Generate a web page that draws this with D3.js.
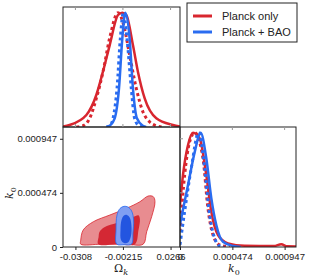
<!DOCTYPE html>
<html>
<head>
<meta charset="utf-8">
<script src="https://cdn.jsdelivr.net/npm/d3@7"></script>
<style>
  body { margin: 0; background: #fff; }
  text { font-family: "Liberation Sans", Arial, sans-serif; }
  .math { font-family: "DejaVu Serif", serif; }
</style>
</head>
<body>
<script>
// tick values shared by both parameters
var omegaTicks = [-0.0308, -0.00215, 0.0266];
var k0Ticks = [0, 0.000474, 0.000947];
var seriesNames = ["Planck only", "Planck + BAO"];

// 1D marginal of Omega_k, [value, normalised probability]
var omegaPlanck = [[-0.0383,0.004],[-0.0343,0.018],[-0.0242,0.105],[-0.0182,0.28],[-0.0142,0.484],[-0.0101,0.717],[-0.0051,0.98],[-0.0025,1.0],[-0.0001,0.98],[0.0039,0.717],[0.0069,0.484],[0.011,0.25],[0.018,0.076],[0.028,0.018],[0.0323,0.005]];
var omegaPlanckDot = [[-0.0302,0.0],[-0.0262,0.011],[-0.0222,0.076],[-0.0182,0.25],[-0.0142,0.48],[-0.0101,0.78],[-0.0051,1.0],[-0.0015,0.88],[0.0019,0.63],[0.0059,0.339],[0.0099,0.134],[0.0139,0.046],[0.018,0.011],[0.022,0.0]];
var omegaBAO = [[-0.0121,0.0],[-0.0101,0.011],[-0.0071,0.076],[-0.0045,0.339],[-0.0025,0.776],[-0.0007,1.0],[0.0019,0.776],[0.0039,0.339],[0.0063,0.076],[0.0099,0.011],[0.0119,0.0]];
var omegaBAODot = [[-0.0121,0.0],[-0.0101,0.011],[-0.0081,0.076],[-0.0057,0.339],[-0.0037,0.776],[-0.0019,1.0],[0.0003,0.776],[0.0029,0.339],[0.0049,0.076],[0.0075,0.011],[0.0095,0.0]];

// 1D marginal of k0
var k0Planck = [[0,0.37],[0.000027,0.63],[0.000072,0.89],[0.000118,1.0],[0.000178,0.95],[0.000238,0.63],[0.000283,0.31],[0.000344,0.105],[0.000434,0.032],[0.000585,0.011],[0.00085,0.008],[0.000917,0.024],[0.00097,0.006],[0.00105,0.005]];
var k0PlanckDot = [[0,0.134],[0.000042,0.63],[0.000087,0.92],[0.000133,1.0],[0.000208,0.776],[0.000253,0.339],[0.000299,0.105],[0.000359,0.018],[0.00045,0.0]];
var k0BAO = [[0,0.2],[0.000072,0.54],[0.000133,0.83],[0.000187,1.0],[0.000238,0.776],[0.000283,0.43],[0.000329,0.19],[0.000389,0.046],[0.000479,0.009],[0.00055,0.0]];
var k0BAODot = [[0,0.02],[0.000042,0.31],[0.000102,0.69],[0.000169,1.0],[0.000223,0.69],[0.000268,0.28],[0.000314,0.076],[0.000359,0.009],[0.0004,0.0]];

// 2D contours, [Omega_k, k0]
var planck95 = [[-0.0276,0.000025],[-0.0276,0.00006],[-0.0261,0.000149],[-0.02,0.000221],[-0.01,0.00028],[0.0001,0.000339],[0.0081,0.000396],[0.0131,0.000446],[0.0162,0.00044],[0.0172,0.000396],[0.0152,0.000265],[0.0122,0.000134],[0.0101,0.000025],[0.0,0.000025],[-0.015,0.000025]];
var planck68 = [[-0.017,0.000025],[-0.0168,0.00009],[-0.0163,0.000131],[-0.0136,0.000171],[-0.0051,0.000214],[0.0039,0.000263],[0.0072,0.000277],[0.0081,0.000245],[0.0072,0.000144],[0.0051,0.000025],[-0.006,0.000025]];
var bao95 = [[-0.0059,0.000026],[-0.0063,0.000149],[-0.0057,0.00028],[-0.0039,0.000337],[-0.0015,0.000356],[0.0009,0.00035],[0.0031,0.000315],[0.0043,0.000236],[0.0039,0.000123],[0.0031,0.000026],[-0.0014,0.00002]];
var bao68 = [[-0.0033,0.000061],[-0.0036,0.000149],[-0.003,0.000236],[-0.0015,0.000276],[0.0003,0.00028],[0.0021,0.000254],[0.003,0.000184],[0.0027,0.000096],[0.0009,0.000039],[-0.0015,0.000035]];

var red = "#d8262f", blue = "#2a6cf0";

var W = 310, H = 280;
var svg = d3.select("body").append("svg").attr("width", W).attr("height", H);

var L = 63, M = 180, R = 296, T = 7, MID = 127, B = 247;

var xOmega = d3.scaleLinear().domain([-0.0383, 0.0323]).range([L, M]);
var xK0 = d3.scaleLinear().domain([0, 0.00105]).range([M, R]);
var yK0 = d3.scaleLinear().domain([0, 0.00105]).range([B, MID]);
var yTop = d3.scaleLinear().domain([0, 1.05]).range([MID, T]);
var yBR = d3.scaleLinear().domain([0, 1.05]).range([B, MID]);

var defs = svg.append("defs");
function clip(id, x0, y0, x1, y1) {
  defs.append("clipPath").attr("id", id).append("rect")
    .attr("x", x0).attr("y", y0).attr("width", x1 - x0).attr("height", y1 - y0);
}
clip("cTL", L, T, M, MID);
clip("cBL", L, MID, M, B);
clip("cBR", M, MID, R, B);

// contours in bottom-left panel
var gBL = svg.append("g").attr("clip-path", "url(#cBL)");
var area = d3.line()
    .x(function (d) { return xOmega(d[0]); })
    .y(function (d) { return yK0(d[1]); })
    .curve(d3.curveCatmullRomClosed.alpha(0.5));
var contours = [
  {d: planck95, fill: "#e88c90", stroke: red},
  {d: planck68, fill: "#d42834", stroke: "none"},
  {d: bao95, fill: "#809ef2", stroke: blue},
  {d: bao68, fill: "#2355e0", stroke: "none"}
];
contours.forEach(function (c) {
  gBL.append("path").attr("d", area(c.d))
    .attr("fill", c.fill).attr("stroke", c.stroke).attr("stroke-width", 0.8);
});

// 1D curves
function curves(g, sx, sy, sets) {
  var line = d3.line()
      .x(function (d) { return sx(d[0]); })
      .y(function (d) { return sy(d[1]); })
      .curve(d3.curveMonotoneX);
  sets.forEach(function (s) {
    g.append("path").attr("d", line(s.d))
      .attr("fill", "none")
      .attr("stroke", s.c)
      .attr("stroke-width", s.dot ? 3 : 2.5)
      .attr("stroke-dasharray", s.dot ? "3,3" : null);
  });
}
var gTL = svg.append("g").attr("clip-path", "url(#cTL)");
curves(gTL, xOmega, yTop, [
  {d: omegaPlanck, c: red}, {d: omegaPlanckDot, c: red, dot: true},
  {d: omegaBAO, c: blue}, {d: omegaBAODot, c: blue, dot: true}
]);
var gBR = svg.append("g").attr("clip-path", "url(#cBR)");
curves(gBR, xK0, yBR, [
  {d: k0Planck, c: red}, {d: k0PlanckDot, c: red, dot: true},
  {d: k0BAO, c: blue}, {d: k0BAODot, c: blue, dot: true}
]);

// panel frames
[[L, T, M, MID], [L, MID, M, B], [M, MID, R, B]].forEach(function (p) {
  svg.append("rect").attr("x", p[0]).attr("y", p[1])
    .attr("width", p[2] - p[0]).attr("height", p[3] - p[1])
    .attr("fill", "none").attr("stroke", "#222").attr("stroke-width", 1);
});

// inner ticks
function innerTicks(vals, pos, fixed, dir, vertical) {
  vals.forEach(function (v) {
    var p = pos(v);
    if (vertical) {
      svg.append("line").attr("x1", fixed).attr("x2", fixed + dir * 3)
        .attr("y1", p).attr("y2", p).attr("stroke", "#999");
    } else {
      svg.append("line").attr("x1", p).attr("x2", p)
        .attr("y1", fixed).attr("y2", fixed + dir * 3).attr("stroke", "#999");
    }
  });
}
innerTicks(omegaTicks, xOmega, T, 1, false);
innerTicks(omegaTicks, xOmega, MID, -1, false);
innerTicks(k0Ticks.slice(1), xK0, MID, 1, false);
innerTicks(k0Ticks.slice(1), yK0, M, 1, true);

// outer axes with labels
var axB1 = d3.axisBottom(xOmega).tickValues(omegaTicks).tickSize(3)
    .tickFormat(function (d) { return String(d); });
var axB2 = d3.axisBottom(xK0).tickValues(k0Ticks).tickSize(3)
    .tickFormat(function (d) { return d === 0 ? "0" : d.toFixed(6); });
var axL = d3.axisLeft(yK0).tickValues(k0Ticks).tickSize(3)
    .tickFormat(function (d) { return d === 0 ? "0" : d.toFixed(6); });
[svg.append("g").attr("transform", "translate(0," + B + ")").call(axB1),
 svg.append("g").attr("transform", "translate(0," + B + ")").call(axB2),
 svg.append("g").attr("transform", "translate(" + L + ",0)").call(axL)].forEach(function (g) {
  g.select(".domain").remove();
  g.selectAll("line").attr("stroke", "#222");
  g.selectAll("text").attr("fill", "#222")
    .style("font-family", '"Liberation Sans", Arial, sans-serif').style("font-size", "9.5px");
});

// axis titles
var t1 = svg.append("text").attr("class", "math").attr("x", 121).attr("y", 272)
  .attr("text-anchor", "middle").attr("font-size", 11).attr("fill", "#222");
t1.append("tspan").text("Ω");
t1.append("tspan").attr("font-style", "italic").attr("font-size", 8).attr("dy", 2.5).text("k");

var t2 = svg.append("text").attr("class", "math").attr("x", 234).attr("y", 272)
  .attr("text-anchor", "middle").attr("font-size", 11).attr("fill", "#222");
t2.append("tspan").attr("font-style", "italic").text("k");
t2.append("tspan").attr("font-size", 8).attr("dy", 2.5).text("0");

var t3 = svg.append("text").attr("class", "math")
  .attr("transform", "translate(13,193) rotate(-90)")
  .attr("text-anchor", "middle").attr("font-size", 11).attr("fill", "#222");
t3.append("tspan").attr("font-style", "italic").text("k");
t3.append("tspan").attr("font-size", 8).attr("dy", 2.5).text("0");

// legend
var lg = svg.append("g");
lg.append("rect").attr("x", 187).attr("y", 3).attr("width", 110).attr("height", 39)
  .attr("fill", "#fff").attr("stroke", "#222").attr("stroke-width", 1);
seriesNames.forEach(function (name, i) {
  var yy = 16 + i * 16;
  lg.append("line").attr("x1", 193).attr("x2", 212).attr("y1", yy).attr("y2", yy)
    .attr("stroke", i === 0 ? red : blue).attr("stroke-width", 3);
  lg.append("text").attr("x", 222).attr("y", yy + 4).attr("font-size", 11)
    .attr("fill", "#222").text(name);
});
</script>
</body>
</html>
